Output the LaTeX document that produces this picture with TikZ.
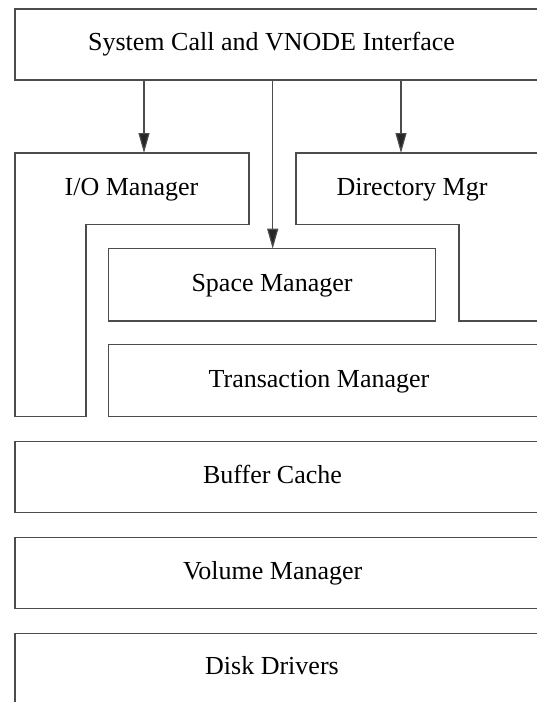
\documentclass[tikz,border=0pt]{standalone}
\usepackage{fontspec}
\setmainfont{Liberation Serif}
\usetikzlibrary{arrows.meta}
\begin{document}
\begin{tikzpicture}[x=1pt,y=-1pt,
  edge/.style={draw=black!70,line width=1.2pt},
  lbl/.style={font=\fontsize{26}{30}\selectfont,anchor=base,inner sep=0pt},
  arr/.style={edge,-{Triangle[length=20pt,width=11pt,fill=black!85]}}]
\useasboundingbox (0,0) rectangle (537,702);
\begin{scope}
\clip (0,0) rectangle (537,702);
% System call box
\path[edge] (15,9) rectangle (560,80);
\node[lbl] (sys) at (271.5,50.7) {System Call and VNODE Interface};
\coordinate (sysS) at (271.5,80);
% I/O manager L-shape
\path[edge] (15,153) -- (249,153) -- (249,224.3) -- (86,224.3) -- (86,416.7) -- (15,416.7) -- cycle;
\node[lbl] (io) at (131.5,195) {I/O Manager};
\coordinate (ioN) at (144,153);
% Directory manager L-shape
\path[edge] (560,321) -- (459,321) -- (459,224.3) -- (296,224.3) -- (296,153) -- (560,153);
\node[lbl] (dir) at (412,195) {Directory Mgr};
\coordinate (dirN) at (401,153);
% Space manager
\path[edge] (108.3,248.7) rectangle (435.3,321);
\node[lbl] (space) at (272,291.5) {Space Manager};
\coordinate (spaceN) at (272.7,248.7);
% Transaction manager
\path[edge] (108.3,344.3) rectangle (560,416.7);
\node[lbl] (trans) at (319,387) {Transaction Manager};
% Buffer cache
\path[edge] (15,441.3) rectangle (560,512.7);
\node[lbl] (buf) at (272.5,483.5) {Buffer Cache};
% Volume manager
\path[edge] (15,537.3) rectangle (560,608.7);
\node[lbl] (vol) at (272.7,579) {Volume Manager};
% Disk drivers
\path[edge] (15,720) -- (15,633.3) -- (560,633.3);
\node[lbl] (disk) at (272,674.5) {Disk Drivers};
% arrows
\draw[arr] (ioN |- sysS) -- (ioN);
\draw[arr] (dirN |- sysS) -- (dirN);
\draw[arr] (spaceN |- sysS) -- (spaceN);
\end{scope}
\end{tikzpicture}
\end{document}
